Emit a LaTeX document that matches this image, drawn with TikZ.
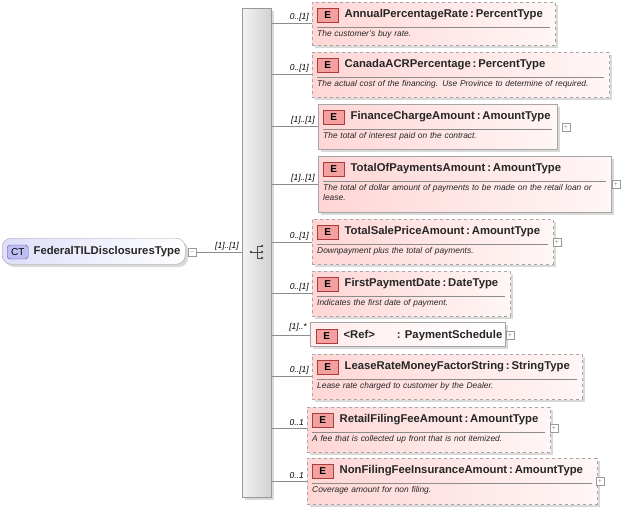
\documentclass[tikz,border=0pt]{standalone}
\usepackage{fontspec}
\setmainfont{Liberation Sans}
\begin{document}
\begin{tikzpicture}[x=1pt,y=-1pt,
  ebox/.style={draw=black!35,left color={rgb,255:red,255;green,214;blue,214},right color={rgb,255:red,255;green,246;blue,246},inner sep=0,line width=0.7pt},
  badge/.style={draw={rgb,255:red,170;green,60;blue,60},fill={rgb,255:red,245;green,160;blue,160},minimum width=21pt,minimum height=14pt,inner sep=0,font=\fontsize{10}{11}\selectfont\bfseries},
  ttl/.style={font=\fontsize{11.3}{13}\selectfont\bfseries,inner sep=0,text=black!85},
  desc/.style={font=\fontsize{8.4}{10.5}\selectfont\itshape,inner sep=0,align=left,text=black!85},
  conn/.style={draw=black!45,line width=0.6pt},
  card/.style={font=\fontsize{8.5}{9}\selectfont\itshape,inner sep=0,anchor=south east},
  plusbox/.style={draw=black!40,fill=white,minimum size=8pt,inner sep=0,font=\fontsize{7}{7}\selectfont,text=black!40}]
\useasboundingbox (0,0) rectangle (621,509);
\newcommand\elem[9]{%
  \fill[black!15] (#2+3,#3+3) rectangle (#4+3,#5+3);
  \node[ebox,#6,anchor=north west,minimum width={(#4-#2)*1pt},minimum height={(#5-#3)*1pt}] (#1) at (#2,#3) {};
  \node[badge,anchor=west] (#1e) at (#2+5,#3+13) {E};
  \node[ttl,anchor=west] (#1t) at ([xshift=6pt]#1e.east) {#7};
  \draw[black!45] (#2+5,#3+25) -- (#4-5,#3+25);
  \node[desc,anchor=north west,text width={(#4-#2-10)*1pt}] (#1d) at (#2+5,#3+28) {#8};
  \coordinate (#1c) at (272,#9);
  \draw[conn] (#1c) -- (#1c -| #1.west);
}
% bar
\fill[black!15] (245,11) rectangle (274,500);
\node[draw=black!40,left color=black!5,right color=black!18,anchor=north west,minimum width=29pt,minimum height=489pt,inner sep=0] (bar) at (242,8) {};
% sequence icon
\fill[black!70] (251,252) circle (1.3pt);
\draw[black!70,line width=0.6pt] (251,252) -- (257,252) (257,246) -- (257,258) (257,246) -- (262,246) (257,252) -- (262,252) (257,258) -- (262,258);
\fill[black!70] (262,246) circle (1.3pt) (262,252) circle (1.3pt) (262,258) circle (1.3pt);
% CT node
\fill[black!15,rounded corners=9pt] (5,241) rectangle (188,267);
\node[draw=black!35,rounded corners=9pt,left color={rgb,255:red,222;green,222;blue,250},right color=white,anchor=north west,minimum width=183pt,minimum height=26pt,inner sep=0] (ct) at (2,238) {};
\node[draw={rgb,255:red,90;green,90;blue,170},fill={rgb,255:red,190;green,190;blue,240},rounded corners=3pt,minimum width=21pt,minimum height=14pt,inner sep=0,font=\fontsize{10}{11}\selectfont,anchor=west] (ctb) at (7,252) {CT};
\node[ttl,anchor=west] (ctt) at ([xshift=5pt]ctb.east) {FederalTILDisclosuresType};
\node[plusbox,anchor=west] (ctm) at (188,252) {$-$};
\draw[conn] (ctm.east) -- (ctm.east -| bar.west);
\node[card] at (239,250) {[1]..[1]};
%
\elem{a}{312}{2}{555}{45}{dashed}{AnnualPercentageRate\,:\,PercentType}{The customer's buy rate.}{23}
\elem{b}{312}{52}{609}{97}{dashed}{CanadaACRPercentage\,:\,PercentType}{The actual cost of the financing. Use Province to determine of required.}{74}
\elem{c}{318}{104}{557}{149}{solid}{FinanceChargeAmount\,:\,AmountType}{The total of interest paid on the contract.}{126}
\elem{d}{318}{156}{611}{212}{solid}{TotalOfPaymentsAmount\,:\,AmountType}{The total of dollar amount of payments to be made on the retail loan or lease.}{184}
\elem{e}{312}{219}{553}{264}{dashed}{TotalSalePriceAmount\,:\,AmountType}{Downpayment plus the total of payments.}{242}
\elem{f}{312}{271}{510}{316}{dashed}{FirstPaymentDate\,:\,DateType}{Indicates the first date of payment.}{293}
\elem{h}{312}{354}{582}{399}{dashed}{LeaseRateMoneyFactorString\,:\,StringType}{Lease rate charged to customer by the Dealer.}{376}
\elem{i}{307}{407}{550}{452}{dashed}{RetailFilingFeeAmount\,:\,AmountType}{A fee that is collected up front that is not itemized.}{428}
\elem{j}{307}{458}{597}{504}{dashed}{NonFilingFeeInsuranceAmount\,:\,AmountType}{Coverage amount for non filing.}{481}
% Ref
\fill[black!15] (313,325) rectangle (508,349);
\node[draw=black!35,left color={rgb,255:red,255;green,236;blue,236},right color=white,anchor=north west,minimum width=195pt,minimum height=24pt,inner sep=0,line width=0.7pt] (g) at (310,322) {};
\node[badge,anchor=west] (ge) at (316,336) {E};
\node[ttl,anchor=west] (gt) at ([xshift=6pt]ge.east) {<Ref>\hspace{22pt}: PaymentSchedule};
\coordinate (gc) at (272,335);
\draw[conn] (gc) -- (gc -| g.west);
% cardinalities
\node[card] at (309,21) {0..[1]};
\node[card] at (309,72) {0..[1]};
\node[card] at (315,124) {[1]..[1]};
\node[card] at (315,182) {[1]..[1]};
\node[card] at (309,240) {0..[1]};
\node[card] at (309,291) {0..[1]};
\node[card] at (307,331) {[1]..*};
\node[card] at (309,374) {0..[1]};
\node[card] at (304,426) {0..1};
\node[card] at (304,479) {0..1};
% plus boxes
\node[plusbox] at (566,127) {+};
\node[plusbox] at (616,184) {+};
\node[plusbox] at (557,242) {+};
\node[plusbox] at (510,335) {+};
\node[plusbox] at (554,428) {+};
\node[plusbox] at (600,481) {+};
\end{tikzpicture}
\end{document}
